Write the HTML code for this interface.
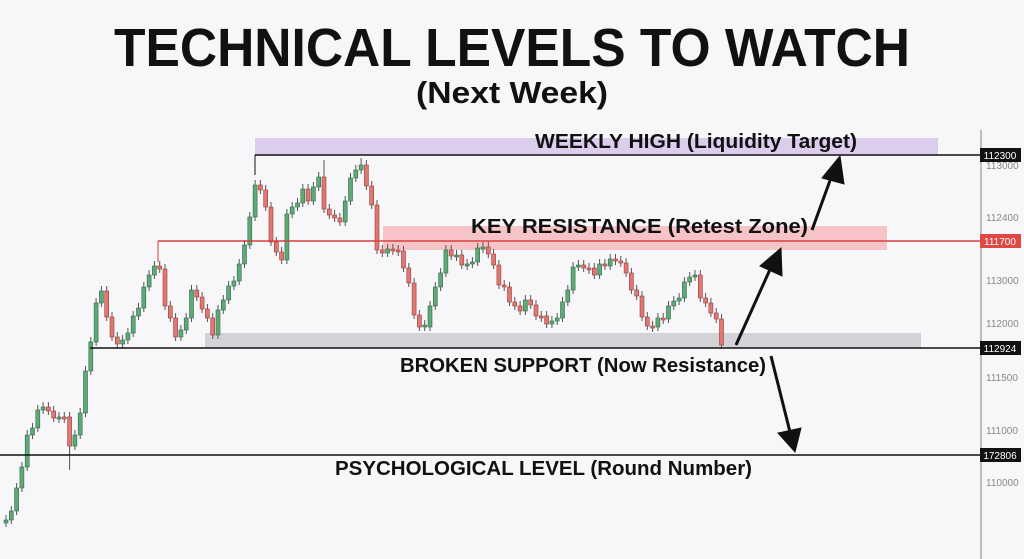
<!DOCTYPE html>
<html><head><meta charset="utf-8"><style>
html,body{margin:0;padding:0;background:#f7f7f9;}
svg{display:block;font-family:"Liberation Sans",sans-serif;}
</style></head><body>
<svg width="1024" height="559" viewBox="0 0 1024 559" xmlns="http://www.w3.org/2000/svg">
<rect width="1024" height="559" fill="#f7f7f9"/>
<text x="512" y="66" text-anchor="middle" font-size="54" font-weight="bold" fill="#111" textLength="796" lengthAdjust="spacingAndGlyphs">TECHNICAL LEVELS TO WATCH</text>
<text x="512" y="103" text-anchor="middle" font-size="31" font-weight="bold" fill="#111" textLength="192" lengthAdjust="spacingAndGlyphs">(Next Week)</text>
<rect x="255" y="138" width="683" height="17" fill="#dccdec"/>
<rect x="383" y="226" width="504" height="24" fill="#f6c4c6"/>
<rect x="205" y="333" width="716" height="15" fill="#d3d3d7"/>
<line x1="981" y1="130" x2="981" y2="559" stroke="#999" stroke-width="1.2"/>
<path stroke="#555" stroke-width="1" fill="none" d="M6 515V527M11.3 506V524M16.6 483V515M21.9 462V492M27.2 430V471M32.5 423V439M37.8 405V432M43.1 402V414M48.4 402V415M53.7 406V422M59 412V423M64.3 412V423M69.6 412V470M74.9 430V450M80.2 408V439M85.5 366V417M90.8 337V375M96.1 298V346M101.4 286V307M106.7 286V321M112 312V341M117.3 332V348M122.6 335V348M127.9 328V344M133.2 311V337M138.5 303V320M143.8 282V312M149.1 270V291M154.4 261V279M159.7 261V273M165 264V310M170.3 301V322M175.6 313V341M180.9 325V341M186.2 313V334M191.5 285V322M196.8 285V301M202.1 292V313M207.4 304V322M212.7 313V339M218 305V339M223.3 295V314M228.6 281V304M233.9 276V290M239.2 259V285M244.5 240V268M249.8 212V249M255.1 180V221M260.4 180V194M265.7 185V211M271 202V246M276.3 237V256M281.6 247V264M286.9 209V264M292.2 202V218M297.5 198V211M302.8 184V207M308.1 184V205M313.4 182V205M318.7 172V191M324 160V213M329.3 204V219M334.6 210V222M339.9 213V226M345.2 196V226M350.5 173V205M355.8 165V182M361.1 158V174M366.4 160V190M371.7 181V209M377 200V254M382.3 245V257M387.6 244V257M392.9 244V255M398.2 245V256M403.5 246V272M408.8 263V287M414.1 278V319M419.4 310V331M424.7 320V331M430 301V331M435.3 282V310M440.6 268V291M445.9 245V277M451.2 245V260M456.5 250V261M461.8 250V269M467.1 259V270M472.4 257V268M477.7 243V266M483 242V253M488.3 242V258M493.6 249V269M498.9 260V289M504.2 280V291M509.5 282V306M514.8 297V310M520.1 301V315M525.4 295V315M530.7 295V309M536 300V320M541.3 311V322M546.6 311V328M551.9 316V328M557.2 313V325M562.5 297V322M567.8 285V306M573.1 262V294M578.4 260V271M583.7 260V272M589 263V274M594.3 263V279M599.6 259V279M604.9 259V270M610.2 254V270M615.5 254V265M620.8 256V267M626.1 258V277M631.4 268V294M636.7 285V300M642 291V321M647.3 312V330M652.6 321V332M657.9 313V331M663.2 313V324M668.5 301V323M673.8 296V310M679.1 293V305M684.4 277V302M689.7 272V286M695 270V281M700.3 270V302M705.6 293V307M710.9 298V317M716.2 308V323M721.5 314V349"/>
<g fill="#5fa878" stroke="#2f6b45" stroke-width="0.6">
<rect x="4" y="520" width="4" height="3"/><rect x="9.3" y="511" width="4" height="9"/><rect x="14.6" y="488" width="4" height="23"/><rect x="19.9" y="467" width="4" height="21"/><rect x="25.2" y="435" width="4" height="32"/><rect x="30.5" y="428" width="4" height="7"/><rect x="35.8" y="410" width="4" height="18"/><rect x="41.1" y="407" width="4" height="3"/><rect x="57" y="417" width="4" height="2"/><rect x="72.9" y="435" width="4" height="11"/><rect x="78.2" y="413" width="4" height="22"/><rect x="83.5" y="371" width="4" height="42"/><rect x="88.8" y="342" width="4" height="29"/><rect x="94.1" y="303" width="4" height="39"/><rect x="99.4" y="291" width="4" height="12"/><rect x="120.6" y="340" width="4" height="4"/><rect x="125.9" y="333" width="4" height="7"/><rect x="131.2" y="316" width="4" height="17"/><rect x="136.5" y="308" width="4" height="8"/><rect x="141.8" y="287" width="4" height="21"/><rect x="147.1" y="275" width="4" height="12"/><rect x="152.4" y="266" width="4" height="9"/><rect x="178.9" y="330" width="4" height="7"/><rect x="184.2" y="318" width="4" height="12"/><rect x="189.5" y="290" width="4" height="28"/><rect x="216" y="310" width="4" height="25"/><rect x="221.3" y="300" width="4" height="10"/><rect x="226.6" y="286" width="4" height="14"/><rect x="231.9" y="281" width="4" height="5"/><rect x="237.2" y="264" width="4" height="17"/><rect x="242.5" y="245" width="4" height="19"/><rect x="247.8" y="217" width="4" height="28"/><rect x="253.1" y="185" width="4" height="32"/><rect x="284.9" y="214" width="4" height="46"/><rect x="290.2" y="207" width="4" height="7"/><rect x="295.5" y="203" width="4" height="4"/><rect x="300.8" y="189" width="4" height="14"/><rect x="311.4" y="187" width="4" height="14"/><rect x="316.7" y="177" width="4" height="10"/><rect x="343.2" y="201" width="4" height="21"/><rect x="348.5" y="178" width="4" height="23"/><rect x="353.8" y="170" width="4" height="8"/><rect x="359.1" y="165" width="4" height="5"/><rect x="385.6" y="249" width="4" height="4"/><rect x="422.7" y="325" width="4" height="2"/><rect x="428" y="306" width="4" height="21"/><rect x="433.3" y="287" width="4" height="19"/><rect x="438.6" y="273" width="4" height="14"/><rect x="443.9" y="250" width="4" height="23"/><rect x="454.5" y="255" width="4" height="2"/><rect x="465.1" y="264" width="4" height="2"/><rect x="470.4" y="262" width="4" height="2"/><rect x="475.7" y="248" width="4" height="14"/><rect x="481" y="247" width="4" height="2"/><rect x="523.4" y="300" width="4" height="11"/><rect x="549.9" y="321" width="4" height="3"/><rect x="555.2" y="318" width="4" height="3"/><rect x="560.5" y="302" width="4" height="16"/><rect x="565.8" y="290" width="4" height="12"/><rect x="571.1" y="267" width="4" height="23"/><rect x="576.4" y="265" width="4" height="2"/><rect x="597.6" y="264" width="4" height="11"/><rect x="608.2" y="259" width="4" height="7"/><rect x="655.9" y="318" width="4" height="9"/><rect x="666.5" y="306" width="4" height="13"/><rect x="671.8" y="301" width="4" height="5"/><rect x="677.1" y="298" width="4" height="3"/><rect x="682.4" y="282" width="4" height="16"/><rect x="687.7" y="277" width="4" height="5"/><rect x="693" y="275" width="4" height="2"/>
</g>
<g fill="#de7873" stroke="#9b3c38" stroke-width="0.6">
<rect x="46.4" y="407" width="4" height="4"/><rect x="51.7" y="411" width="4" height="7"/><rect x="62.3" y="417" width="4" height="2"/><rect x="67.6" y="417" width="4" height="29"/><rect x="104.7" y="291" width="4" height="26"/><rect x="110" y="317" width="4" height="20"/><rect x="115.3" y="337" width="4" height="7"/><rect x="157.7" y="266" width="4" height="3"/><rect x="163" y="269" width="4" height="37"/><rect x="168.3" y="306" width="4" height="12"/><rect x="173.6" y="318" width="4" height="19"/><rect x="194.8" y="290" width="4" height="7"/><rect x="200.1" y="297" width="4" height="12"/><rect x="205.4" y="309" width="4" height="9"/><rect x="210.7" y="318" width="4" height="17"/><rect x="258.4" y="185" width="4" height="5"/><rect x="263.7" y="190" width="4" height="17"/><rect x="269" y="207" width="4" height="35"/><rect x="274.3" y="242" width="4" height="10"/><rect x="279.6" y="252" width="4" height="8"/><rect x="306.1" y="189" width="4" height="12"/><rect x="322" y="177" width="4" height="32"/><rect x="327.3" y="209" width="4" height="6"/><rect x="332.6" y="215" width="4" height="3"/><rect x="337.9" y="218" width="4" height="4"/><rect x="364.4" y="165" width="4" height="21"/><rect x="369.7" y="186" width="4" height="19"/><rect x="375" y="205" width="4" height="45"/><rect x="380.3" y="250" width="4" height="3"/><rect x="390.9" y="249" width="4" height="2"/><rect x="396.2" y="250" width="4" height="2"/><rect x="401.5" y="251" width="4" height="17"/><rect x="406.8" y="268" width="4" height="15"/><rect x="412.1" y="283" width="4" height="32"/><rect x="417.4" y="315" width="4" height="12"/><rect x="449.2" y="250" width="4" height="6"/><rect x="459.8" y="255" width="4" height="10"/><rect x="486.3" y="247" width="4" height="7"/><rect x="491.6" y="254" width="4" height="11"/><rect x="496.9" y="265" width="4" height="20"/><rect x="502.2" y="285" width="4" height="2"/><rect x="507.5" y="287" width="4" height="15"/><rect x="512.8" y="302" width="4" height="4"/><rect x="518.1" y="306" width="4" height="5"/><rect x="528.7" y="300" width="4" height="5"/><rect x="534" y="305" width="4" height="11"/><rect x="539.3" y="316" width="4" height="2"/><rect x="544.6" y="316" width="4" height="8"/><rect x="581.7" y="265" width="4" height="3"/><rect x="587" y="268" width="4" height="2"/><rect x="592.3" y="268" width="4" height="7"/><rect x="602.9" y="264" width="4" height="2"/><rect x="613.5" y="259" width="4" height="2"/><rect x="618.8" y="261" width="4" height="2"/><rect x="624.1" y="263" width="4" height="10"/><rect x="629.4" y="273" width="4" height="17"/><rect x="634.7" y="290" width="4" height="6"/><rect x="640" y="296" width="4" height="21"/><rect x="645.3" y="317" width="4" height="9"/><rect x="650.6" y="326" width="4" height="2"/><rect x="661.2" y="318" width="4" height="2"/><rect x="698.3" y="275" width="4" height="23"/><rect x="703.6" y="298" width="4" height="5"/><rect x="708.9" y="303" width="4" height="10"/><rect x="714.2" y="313" width="4" height="6"/><rect x="719.5" y="319" width="4" height="26"/>
</g>
<line x1="255" y1="155" x2="981" y2="155" stroke="#111" stroke-width="1.5"/>
<line x1="255" y1="155" x2="255" y2="175" stroke="#111" stroke-width="1"/>
<line x1="158" y1="241" x2="981" y2="241" stroke="#d9403f" stroke-width="1.5"/>
<line x1="158" y1="241" x2="158" y2="262" stroke="#d9403f" stroke-width="1"/>
<line x1="90" y1="348" x2="981" y2="348" stroke="#111" stroke-width="1.5"/>
<line x1="0" y1="455" x2="981" y2="455" stroke="#111" stroke-width="1.5"/>
<g font-weight="bold" fill="#111" font-size="20">
<text x="535" y="148" textLength="322" lengthAdjust="spacingAndGlyphs">WEEKLY HIGH (Liquidity Target)</text>
<text x="471" y="233" textLength="337" lengthAdjust="spacingAndGlyphs">KEY RESISTANCE (Retest Zone)</text>
<text x="400" y="372" textLength="366" lengthAdjust="spacingAndGlyphs">BROKEN SUPPORT (Now Resistance)</text>
<text x="335" y="475" textLength="417" lengthAdjust="spacingAndGlyphs">PSYCHOLOGICAL LEVEL (Round Number)</text>
</g>
<g stroke="#111" stroke-width="3" fill="#111">
<line x1="812" y1="230" x2="832" y2="175"/>
<polygon points="840,156 844,184 822,178" stroke-width="1"/>
<line x1="736" y1="345" x2="772" y2="265"/>
<polygon points="781,248 782,276 760,266" stroke-width="1"/>
<line x1="771" y1="356" x2="790" y2="432"/>
<polygon points="795,452 801,428 778,433" stroke-width="1"/>
</g>
<g font-size="10" fill="#888">
<text x="986" y="169">113000</text>
<text x="986" y="221">112400</text>
<text x="986" y="284">113000</text>
<text x="986" y="327">112000</text>
<text x="986" y="381">111500</text>
<text x="986" y="434">111000</text>
<text x="986" y="486">110000</text>
</g>
<rect x="980" y="148" width="41" height="14" fill="#111"/>
<text x="1000" y="159" font-size="10" fill="#fff" text-anchor="middle">112300</text>
<rect x="980" y="234" width="41" height="14" fill="#e04846"/>
<text x="1000" y="245" font-size="10" fill="#fff" text-anchor="middle">111700</text>
<rect x="980" y="341" width="41" height="14" fill="#111"/>
<text x="1000" y="352" font-size="10" fill="#fff" text-anchor="middle">112924</text>
<rect x="980" y="448" width="41" height="14" fill="#111"/>
<text x="1000" y="459" font-size="10" fill="#fff" text-anchor="middle">172806</text>
</svg>
</body></html>
